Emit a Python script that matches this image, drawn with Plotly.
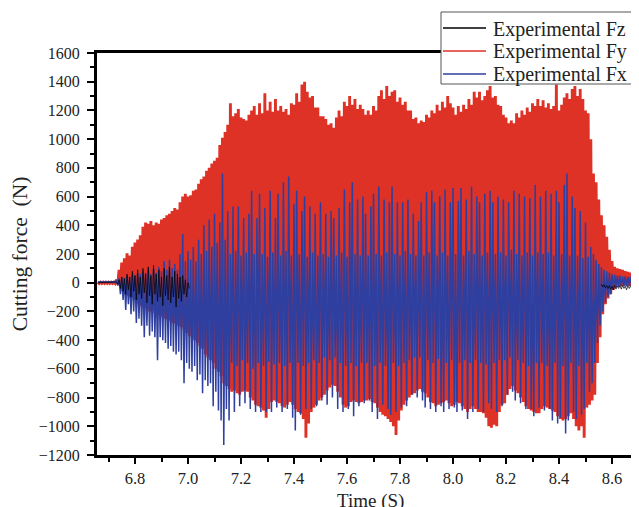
import numpy as np
import plotly.graph_objects as go

# time grid (s), 0.01 s steps read along the axis
time_s = np.round(6.66 + 0.01 * np.arange(205), 2)

# Experimental Fy (red) – upper / lower extent per step
fy_hi = [3, 3, 3, 3, 3, 3, 3, 20, 90, 140,
         170, 205, 190, 250, 280, 300, 330, 390, 420, 410,
         430, 400, 420, 410, 440, 450, 470, 480, 500, 520,
         510, 560, 600, 620, 600, 610, 640, 650, 690, 720,
         740, 780, 800, 830, 850, 870, 960, 1010, 1050, 1100,
         1250, 1160, 1180, 1210, 1150, 1140, 1130, 1170, 1200, 1230,
         1170, 1250, 1180, 1320, 1200, 1260, 1190, 1280, 1200, 1230,
         1190, 1210, 1170, 1250, 1240, 1320, 1260, 1380, 1400, 1330,
         1290, 1300, 1220, 1220, 1160, 1160, 1140, 1100, 1110, 1080,
         1150, 1200, 1160, 1260, 1230, 1300, 1240, 1280, 1210, 1240,
         1210, 1170, 1200, 1170, 1230, 1200, 1300, 1340, 1280, 1370,
         1300, 1330, 1340, 1260, 1290, 1240, 1260, 1200, 1200, 1140,
         1150, 1110, 1130, 1120, 1170, 1150, 1200, 1180, 1240, 1200,
         1260, 1220, 1300, 1250, 1220, 1170, 1230, 1190, 1240, 1210,
         1280, 1240, 1330, 1290, 1330, 1270, 1300, 1340, 1370, 1290,
         1300, 1240, 1230, 1170, 1150, 1110, 1130, 1110, 1180, 1150,
         1200, 1170, 1220, 1190, 1250, 1230, 1280, 1230, 1270, 1220,
         1250, 1210, 1230, 1380, 1200, 1240, 1290, 1320, 1280, 1350,
         1370, 1300, 1350, 1280, 1200, 1180, 1000, 760, 700, 580,
         470, 400, 320, 230, 150, 110, 100, 95, 90, 80,
         75, 70, 65, 65, 60]
fy_lo = [-6, -6, -6, -6, -6, -6, -6, -10, -30, -60,
         -80, -90, -110, -100, -130, -150, -160, -170, -180, -200,
         -190, -210, -220, -230, -240, -250, -260, -270, -280, -290,
         -300, -310, -330, -350, -370, -380, -400, -420, -440, -460,
         -500, -520, -540, -560, -600, -620, -650, -700, -720, -740,
         -760, -750, -770, -780, -760, -750, -760, -800, -820, -850,
         -860, -870, -890, -940, -880, -830, -820, -830, -840, -860,
         -870, -850, -830, -850, -880, -900, -910, -950, -1080, -980,
         -900, -870, -850, -820, -800, -780, -750, -730, -710, -720,
         -760, -800, -850, -870, -860, -830, -820, -830, -840, -830,
         -820, -820, -810, -830, -840, -870, -900, -920, -930, -950,
         -970, -1000, -1060, -960, -890, -850, -820, -800, -780, -770,
         -750, -740, -760, -770, -800, -830, -840, -860, -850, -840,
         -830, -820, -840, -860, -850, -830, -840, -860, -880, -900,
         -880, -860, -880, -900, -900, -910, -940, -1000, -1010, -990,
         -1000, -900, -850, -840, -780, -740, -720, -750, -770, -800,
         -830, -860, -880, -890, -900, -910, -910, -880, -860, -870,
         -880, -890, -900, -930, -950, -960, -950, -930, -910, -950,
         -1000, -1030, -1000, -1080, -870, -850, -820, -780, -560, -380,
         -220, -150, -110, -80, -50, -30, -20, -20, -20, -20,
         -20, -20, -20, -20, -20]

# Experimental Fx (blue)
fx_hi = [8, 8, 8, 8, 8, 8, 8, 20, 30, 40,
         30, 50, 40, 60, 50, 70, 60, 80, 70, 90,
         60, 100, 70, 110, 80, 150, 90, 160, 100, 130,
         90, 200, 340, 150, 220, 160, 250, 150, 300, 200,
         400, 220, 440, 250, 480, 280, 420, 760, 300, 500,
         200, 530, 220, 530, 190, 450, 210, 480, 640, 200,
         450, 620, 200, 520, 180, 640, 210, 450, 620, 190,
         700, 220, 740, 190, 550, 640, 200, 500, 600, 180,
         530, 210, 480, 190, 560, 200, 480, 180, 500, 450,
         190, 520, 210, 650, 180, 560, 700, 200, 580, 190,
         600, 480, 190, 530, 620, 200, 670, 190, 580, 210,
         560, 670, 200, 560, 190, 560, 220, 580, 200, 480,
         190, 430, 560, 190, 630, 210, 640, 560, 190, 600,
         210, 650, 190, 560, 660, 200, 570, 660, 190, 580,
         220, 670, 200, 600, 560, 190, 620, 210, 640, 560,
         200, 600, 210, 580, 190, 560, 230, 640, 200, 620,
         190, 600, 210, 590, 190, 680, 210, 600, 200, 640,
         210, 620, 190, 640, 560, 200, 680, 760, 190, 600,
         520, 190, 500, 170, 420, 180, 250, 200, 160, 130,
         110, 90, 80, 70, 60, 55, 50, 50, 45, 45,
         40, 40, 40, 35, 35]
fx_lo = [2, 2, 2, 2, 2, 2, 2, -20, -80, -120,
         -190, -150, -220, -200, -280, -250, -300, -380, -300, -370,
         -340, -380, -540, -380, -400, -420, -460, -440, -480, -500,
         -480, -540, -700, -560, -600, -620, -580, -680, -640, -770,
         -680, -720, -700, -860, -760, -890, -960, -1130, -880, -960,
         -560, -900, -580, -860, -540, -840, -560, -880, -600, -900,
         -560, -900, -580, -900, -550, -900, -570, -870, -560, -900,
         -580, -880, -560, -940, -1030, -560, -920, -580, -880, -560,
         -880, -540, -860, -560, -820, -520, -850, -540, -800, -520,
         -880, -560, -900, -580, -880, -560, -930, -580, -860, -560,
         -840, -560, -820, -900, -580, -950, -560, -850, -580, -880,
         -920, -560, -900, -580, -870, -560, -860, -540, -780, -520,
         -800, -520, -820, -870, -540, -880, -560, -900, -530, -860,
         -900, -560, -880, -540, -870, -900, -560, -890, -540, -950,
         -560, -900, -540, -880, -560, -900, -570, -840, -880, -560,
         -900, -540, -860, -540, -780, -520, -760, -820, -540, -840,
         -560, -880, -580, -880, -930, -560, -870, -560, -890, -580,
         -880, -960, -560, -980, -940, -580, -1050, -960, -560, -900,
         -950, -580, -920, -880, -560, -760, -700, -560, -420, -300,
         -200, -140, -100, -80, -50, -35, -30, -25, -25, -25,
         -20, -20, -20, -20, -20]

# Experimental Fz (black) – only visible before 7.0 s and after 8.55 s
fz_hi = ([0, 0, 0, 0, 0, 0, 0, 5, 20, 40,
          30, 60, 40, 80, 50, 90, 40, 100, 60, 110,
          50, 120, 60, 90, 40, 100, 50, 110, 40, 80,
          60, 40, 50, 20, 0]
         + [None] * 155
         + [-10, -15, -20, -20, -25, -20, -25, -20, -20, -25,
            -20, -20, -25, -20, -20])
fz_lo = ([0, 0, 0, 0, 0, 0, 0, -10, -40, -60,
          -80, -50, -100, -60, -120, -80, -110, -70, -140, -90,
          -150, -80, -130, -100, -160, -90, -120, -140, -100, -170,
          -110, -130, -80, -100, -40]
         + [None] * 155
         + [-30, -35, -40, -45, -50, -45, -40, -45, -40, -50,
            -40, -45, -40, -40, -35])

x_ticks = [6.8, 7.0, 7.2, 7.4, 7.6, 7.8, 8.0, 8.2, 8.4, 8.6]
x_tick_text = ["6.8", "7.0", "7.2", "7.4", "7.6", "7.8", "8.0", "8.2", "8.4", "8.6"]
x_minor = [6.7, 6.9, 7.1, 7.3, 7.5, 7.7, 7.9, 8.1, 8.3, 8.5, 8.7]
legend_names = ["Experimental Fz", "Experimental Fy", "Experimental Fx"]


def zigzag(t, hi, lo):
    xs, ys = [], []
    for ti, h, l in zip(t, hi, lo):
        xs += [ti, ti + 0.005]
        ys += [h, l]
    return xs, ys


RED = "#DE3226"
BLUE = "#2E3F9F"
FONT = "Liberation Serif, Times New Roman, serif"
TXT = "#222222"
# the page adds an 8 px body margin, so the figure is 8 px smaller and sits at (8, 8)
OFF = 8
W, H = 639 - OFF, 507 - OFF
ML, MR, MT, MB = 97 - OFF, 0, 53 - OFF, 52

fig = go.Figure()
x, y = zigzag(time_s, fy_hi, fy_lo)
fig.add_trace(go.Scatter(x=x, y=y, mode="lines", name=legend_names[1],
                         line=dict(color=RED, width=2.9)))
x, y = zigzag(time_s, fx_hi, fx_lo)
fig.add_trace(go.Scatter(x=x, y=y, mode="lines", name=legend_names[2],
                         line=dict(color=BLUE, width=1.5)))
x, y = zigzag(time_s, fz_hi, fz_lo)
fig.add_trace(go.Scatter(x=x, y=y, mode="lines", name=legend_names[0],
                         line=dict(color="black", width=0.7), connectgaps=False))

# legend drawn as a framed box that straddles the top axis line (as in the original)
pw, ph = W - ML - MR, H - MT - MB
px = lambda v: (v - OFF - ML) / pw          # page pixel -> paper x
py = lambda v: (H - MB - (v - OFF)) / ph    # page pixel -> paper y
shapes = [dict(type="rect", xref="paper", yref="paper",
               x0=px(441), x1=px(638.5), y0=py(84), y1=py(12),
               fillcolor="white", line=dict(color="#555555", width=1), layer="above")]
annotations = []
for name, col, row in zip(legend_names, ["black", RED, BLUE], [28, 51, 74]):
    shapes.append(dict(type="line", xref="paper", yref="paper",
                       x0=px(443), x1=px(486), y0=py(row), y1=py(row),
                       line=dict(color=col, width=1.3), layer="above"))
    annotations.append(dict(text=name, xref="paper", yref="paper",
                            x=px(491), y=py(row + 1), xanchor="left", yanchor="middle",
                            showarrow=False, font=dict(family=FONT, size=20, color=TXT)))
# x-axis title placed just under the tick labels, as in the original
annotations.append(dict(text="Time (S)", xref="paper", yref="paper",
                        x=px(370), y=py(488), xanchor="center", yanchor="top",
                        showarrow=False, font=dict(family=FONT, size=19, color=TXT)))

fig.update_layout(
    width=W, height=H,
    margin=dict(l=ML, r=MR, t=MT, b=MB),
    paper_bgcolor="white", plot_bgcolor="white",
    font=dict(family=FONT, size=16, color=TXT),
    showlegend=False,
    shapes=shapes, annotations=annotations,
)
fig.update_xaxes(
    range=[6.6566, 8.7019], showgrid=False, zeroline=False, automargin=False,
    showline=True, linecolor="black", linewidth=3, mirror=True,
    ticks="outside", ticklen=6, tickwidth=2, tickcolor="black",
    tickvals=x_ticks, ticktext=x_tick_text, ticklabelstandoff=0,
    minor=dict(tickvals=x_minor, ticks="outside", ticklen=4, tickwidth=2, tickcolor="black"),
    tickfont=dict(family=FONT, size=16.5, color=TXT),
)
fig.update_yaxes(
    range=[-1200, 1600], showgrid=False, zeroline=False, automargin=False,
    showline=True, linecolor="black", linewidth=3,
    ticks="outside", ticklen=7, tickwidth=2, tickcolor="black",
    dtick=200, tick0=0, ticklabelstandoff=4,
    minor=dict(dtick=100, ticks="outside", ticklen=4, tickwidth=2, tickcolor="black"),
    tickfont=dict(family=FONT, size=16, color=TXT),
    title=dict(text="Cutting force  (N)", font=dict(family=FONT, size=21.5, color=TXT), standoff=8),
)

fig.write_html("out.html")
